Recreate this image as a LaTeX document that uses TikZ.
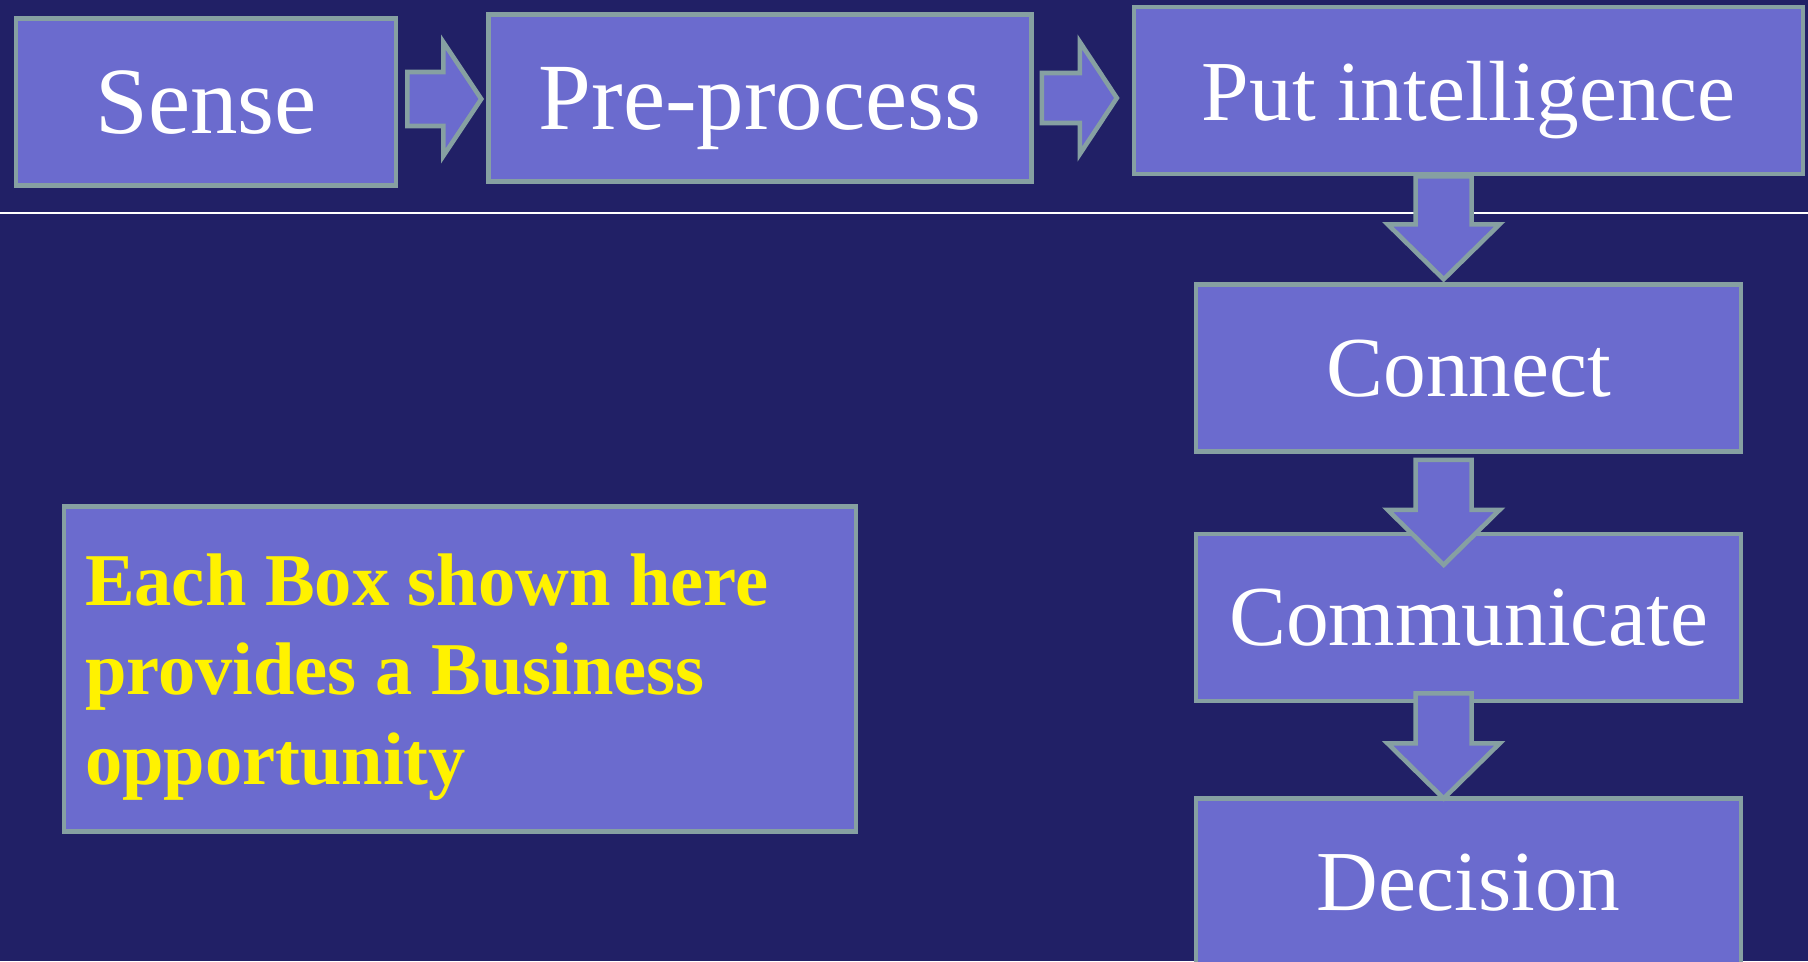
\documentclass[tikz,border=0pt]{standalone}
\usepackage{fontspec}
\setmainfont{Liberation Serif}
\usetikzlibrary{positioning}

\definecolor{slidebg}{RGB}{33,32,102}
\definecolor{boxfill}{RGB}{107,107,206}
\definecolor{boxline}{RGB}{134,160,162}

\tikzset{
  blk/.style={draw=boxline, fill=boxfill, line width=1.3pt, inner sep=0pt},
  procbox/.style={blk, minimum height=1.67cm, text=white, text depth=0pt},
  bigtxt/.style={font=\fontsize{27}{32}\selectfont},
  midtxt/.style={font=\fontsize{24.3}{29}\selectfont},
  blkarrow/.style={draw=boxline, fill=boxfill, line width=1.3pt, line join=miter}
}

\begin{document}
\begin{tikzpicture}
        \useasboundingbox (0,0) rectangle (18.08,-9.61);
        \fill[slidebg] (0,0) rectangle (18.08,-9.61);
        \draw[white, line width=0.5pt] (0,-2.13) -- (18.08,-2.13);
        %---------------------------
        \node[procbox, bigtxt, minimum width=3.8cm] (sense) at (2.06,-1.02) {Sense};
        \node[procbox, bigtxt, minimum width=5.43cm, right=0.88cm of sense, yshift=0.4mm] (prep) {Pre-process};
        \node[procbox, midtxt, minimum width=6.69cm, right=0.98cm of prep, yshift=0.75mm] (intel) {Put intelligence};
        \node[procbox, midtxt, minimum width=5.45cm, below=1.06cm of intel] (connect) {Connect};
        \node[procbox, midtxt, minimum width=5.45cm, below=0.78cm of connect] (comm) {Communicate};
        \node[procbox, midtxt, minimum width=5.45cm, below=0.93cm of comm] (decide) {Decision};
        %---------------------------
        \node[blk, minimum width=7.92cm, minimum height=3.25cm, text width=7.5cm, align=left, text=yellow,
              text height=0.68cm, font=\bfseries\fontsize{21.2}{25.6}\selectfont] (note) at (4.6,-6.69)
              {\spaceskip=0pt Each Box shown here\\ provides a Business\\ opportunity};
        %--------------------------
        \draw[blkarrow] ([xshift=0.9mm, yshift=0.3mm]sense.east) -- ++(0,0.27) -- ++(0.36,0) -- ++(0,0.3)
              -- ++(0.38,-0.57) -- ++(-0.38,-0.57) -- ++(0,0.3) -- ++(-0.36,0) -- cycle;
        \draw[blkarrow] ([xshift=0.8mm]prep.east) -- ++(0,0.25) -- ++(0.38,0) -- ++(0,0.31)
              -- ++(0.37,-0.56) -- ++(-0.37,-0.56) -- ++(0,0.31) -- ++(-0.38,0) -- cycle;
        \draw[blkarrow] ([xshift=-2.5mm]intel.south) -- ++(0.28,0) -- ++(0,-0.48) -- ++(0.28,0)
              -- ++(-0.56,-0.55) -- ++(-0.56,0.55) -- ++(0.28,0) -- ++(0,0.48) -- cycle;
        \draw[blkarrow] ([xshift=-2.5mm, yshift=-0.6mm]connect.south) -- ++(0.28,0) -- ++(0,-0.5) -- ++(0.28,0)
              -- ++(-0.56,-0.55) -- ++(-0.56,0.55) -- ++(0.28,0) -- ++(0,0.5) -- cycle;
        \draw[blkarrow] ([xshift=-2.5mm, yshift=1mm]comm.south) -- ++(0.28,0) -- ++(0,-0.5) -- ++(0.28,0)
              -- ++(-0.56,-0.55) -- ++(-0.56,0.55) -- ++(0.28,0) -- ++(0,0.5) -- cycle;
\end{tikzpicture}
\end{document}
